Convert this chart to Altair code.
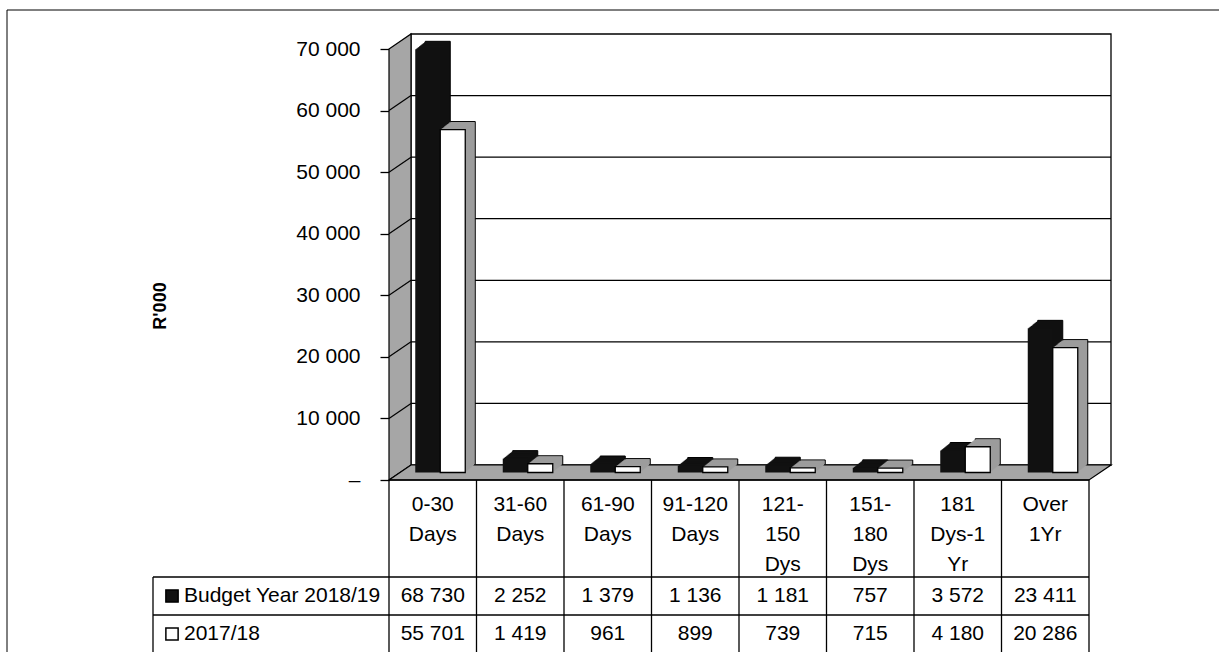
import altair as alt
import pandas as pd

# ---------------- data ----------------
cat_keys = ["0-30 Days", "31-60 Days", "61-90 Days", "91-120 Days",
            "121-150 Dys", "151-180 Dys", "181 Dys-1 Yr", "Over 1Yr"]
cat_labels = ["0-30\nDays", "31-60\nDays", "61-90\nDays", "91-120\nDays",
              "121-\n150\nDys", "151-\n180\nDys", "181\nDys-1\nYr", "Over\n1Yr"]
budget_2018_19 = [68730, 2252, 1379, 1136, 1181, 757, 3572, 23411]
actual_2017_18 = [55701, 1419, 961, 899, 739, 715, 4180, 20286]
series_names = ["Budget Year 2018/19", "2017/18"]
y_ticks = [0, 10000, 20000, 30000, 40000, 50000, 60000, 70000]
y_title = "R'000"

# ---------------- geometry / style ----------------
W, H = 700, 431          # front plane of plot area
PAD_L, PAD_T = 389, 49
DX, DY = 22, 15          # depth of the 3D box
BAR_W = 25
BAR_DX, BAR_DY = 11, 7.5  # bars sit half way into the depth
EXT_STEPS = 10           # extrusion of each bar (10 px right, 8 px up)
WALL = "#a6a6a6"
SIDE = "#9c9c9c"
FONT = "Liberation Sans"
FS = 21


def ax(x):
    return x - PAD_L


def ay(y):
    return y - PAD_T


def fmt(v):
    return f"{v:,}".replace(",", " ")


xs = alt.Scale(domain=cat_keys, paddingInner=0, paddingOuter=0)
ys = alt.Scale(domain=[0, 70000], nice=False, zero=True)
YAX = alt.Axis(
    values=y_ticks, tickSize=9, labelPadding=20, domain=False, grid=False,
    labelFont=FONT, labelFontSize=FS, labelColor="black", tickColor="black",
    tickWidth=1.3, title=None,
    labelExpr="datum.value == 0 ? '\u2013' : replace(format(datum.value, ','), ',', ' ')")
X = alt.X("cat:N", scale=xs, axis=None, sort=cat_keys)


def Y(field):
    return alt.Y(field, scale=ys, axis=YAX)


one = pd.DataFrame({"a": [0]})
df_b = pd.DataFrame({"cat": cat_keys, "v": budget_2018_19, "zero": 0,
                     "label": cat_labels, "txt": [fmt(v) for v in budget_2018_19]})
df_a = pd.DataFrame({"cat": cat_keys, "v": actual_2017_18, "zero": 0,
                     "txt": [fmt(v) for v in actual_2017_18]})
grid_df = pd.DataFrame({"v": y_ticks[1:-1]})

layers = []

# outer frame (top and left edges)
layers.append(alt.Chart(one).mark_rule(color="black", strokeWidth=1).encode(
    x=alt.value(ax(7)), x2=alt.value(ax(1219)), y=alt.value(ay(10))))
layers.append(alt.Chart(one).mark_rule(color="black", strokeWidth=1).encode(
    x=alt.value(ax(7)), y=alt.value(ay(10)), y2=alt.value(ay(652))))

# back wall
layers.append(alt.Chart(one).mark_rect(fill="white", stroke="black", strokeWidth=1.3).encode(
    x=alt.value(DX), x2=alt.value(W + DX), y=alt.value(-DY), y2=alt.value(H - DY)))
layers.append(alt.Chart(grid_df).mark_rule(color="black", strokeWidth=1.3, yOffset=-DY).encode(
    x=alt.value(DX), x2=alt.value(W + DX), y=Y("v:Q")))

# left wall
wall_df = pd.DataFrame({"px": [0, DX], "top": [0, -DY], "bot": [H, H - DY]})
layers.append(alt.Chart(wall_df).mark_area(fill=WALL, stroke="black", strokeWidth=1.2).encode(
    x=alt.X("px:Q", scale=None), y=alt.Y("top:Q", scale=None), y2="bot:Q"))
layers.append(alt.Chart(grid_df).mark_rule(color="black", strokeWidth=1.2, y2Offset=-DY).encode(
    x=alt.value(0), x2=alt.value(DX), y=Y("v:Q"), y2=alt.Y2("v:Q")))

# floor
floor_df = pd.DataFrame({"px": [0, DX, W, W + DX],
                         "top": [H, H - DY, H - DY, H - DY],
                         "bot": [H, H, H, H - DY]})
layers.append(alt.Chart(floor_df).mark_area(fill=WALL, stroke="black", strokeWidth=1.2).encode(
    x=alt.X("px:Q", scale=None), y=alt.Y("top:Q", scale=None), y2="bot:Q"))


def bar_layers(df, off, front_fill, ext_fill, front_stroke):
    out = []
    for k in range(EXT_STEPS, 0, -1):
        kw = dict(width=BAR_W, xOffset=off + k, yOffset=-BAR_DY - 0.8 * k,
                  y2Offset=-BAR_DY - 0.8 * k, fill=ext_fill)
        if k == EXT_STEPS:
            kw.update(stroke="black", strokeWidth=1)
        out.append(alt.Chart(df).mark_bar(**kw).encode(
            x=X, y=Y("v:Q"), y2="zero:Q"))
    fkw = dict(width=BAR_W, xOffset=off, yOffset=-BAR_DY, y2Offset=-BAR_DY, fill=front_fill)
    if front_stroke:
        fkw.update(stroke="black", strokeWidth=1.3)
    out.append(alt.Chart(df).mark_bar(**fkw).encode(
        x=X, y=Y("v:Q"), y2="zero:Q"))
    return out


layers += bar_layers(df_b, -5, "#111111", "#111111", False)
layers += bar_layers(df_a, 20, "white", SIDE, True)

# axis title
layers.append(alt.Chart(one).mark_text(text=y_title, angle=270, font=FONT, fontSize=18,
                                       fontWeight="bold", align="center", baseline="middle",
                                       color="black").encode(
    x=alt.value(ax(161)), y=alt.value(ay(306))))

# ---------------- data table ----------------
TBL_TOP, ROW1, ROW2, TBL_BOT = 480, 577, 615, 652
LEG_L = 153
for (x1, x2, yy) in [(PAD_L, PAD_L + W, TBL_TOP), (LEG_L, PAD_L + W, ROW1), (LEG_L, PAD_L + W, ROW2)]:
    layers.append(alt.Chart(one).mark_rule(color="black", strokeWidth=1.3).encode(
        x=alt.value(ax(x1)), x2=alt.value(ax(x2)), y=alt.value(ay(yy))))
layers.append(alt.Chart(df_b).mark_rule(color="black", strokeWidth=1.3).encode(
    x=alt.X("cat:N", scale=xs, axis=None, sort=cat_keys, bandPosition=0),
    y=alt.value(ay(TBL_TOP)), y2=alt.value(ay(TBL_BOT))))
layers.append(alt.Chart(one).mark_rule(color="black", strokeWidth=1.3).encode(
    x=alt.value(W), y=alt.value(ay(TBL_TOP)), y2=alt.value(ay(TBL_BOT))))
layers.append(alt.Chart(one).mark_rule(color="black", strokeWidth=1.3).encode(
    x=alt.value(ax(LEG_L)), y=alt.value(ay(ROW1)), y2=alt.value(ay(TBL_BOT))))

# category labels
layers.append(alt.Chart(df_b).mark_text(font=FONT, fontSize=FS, lineBreak="\n", lineHeight=30,
                                        align="center", baseline="top", color="black").encode(
    x=X, y=alt.value(ay(494)), text="label:N"))
# value rows
layers.append(alt.Chart(df_b).mark_text(font=FONT, fontSize=FS, align="center",
                                        baseline="middle", color="black").encode(
    x=X, y=alt.value(ay(596)), text="txt:N"))
layers.append(alt.Chart(df_a).mark_text(font=FONT, fontSize=FS, align="center",
                                        baseline="middle", color="black").encode(
    x=X, y=alt.value(ay(634)), text="txt:N"))
# legend labels
for name, yy, fill in [(series_names[0], 596, "#111111"), (series_names[1], 634, "white")]:
    layers.append(alt.Chart(one).mark_square(size=150, fill=fill, stroke="black",
                                             strokeWidth=1.5, opacity=1).encode(
        x=alt.value(ax(172)), y=alt.value(ay(yy))))
    layers.append(alt.Chart(one).mark_text(text=name, font=FONT, fontSize=FS, align="left",
                                           baseline="middle", color="black").encode(
        x=alt.value(ax(184)), y=alt.value(ay(yy))))

chart = alt.layer(*layers).properties(
    width=W, height=H,
    autosize=alt.AutoSizeParams(type="none"),
    padding={"left": PAD_L, "top": PAD_T, "right": 1219 - PAD_L - W, "bottom": 652 - PAD_T - H},
    background="white",
).configure_view(stroke=None).configure(font=FONT)

chart.save("out.html", embed_options={"renderer": "svg", "actions": False})
